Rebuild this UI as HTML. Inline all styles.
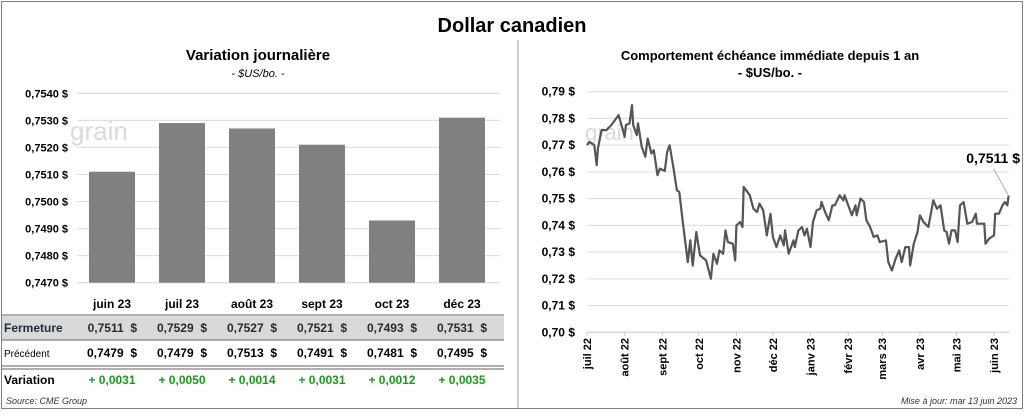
<!DOCTYPE html>
<html><head><meta charset="utf-8"><style>
html,body{margin:0;padding:0;background:#fff;}
body{width:1024px;height:410px;overflow:hidden;font-family:"Liberation Sans",sans-serif;}
svg text{font-family:"Liberation Sans",sans-serif;}
</style></head><body>
<svg id="s" width="1024" height="410" viewBox="0 0 1024 410">
<rect x="1.5" y="1.5" width="1021" height="407" fill="#fff" stroke="#808080"/>
<line x1="518" y1="40" x2="518" y2="408" stroke="#a0a0a0"/>
<text x="512" y="32" text-anchor="middle" font-size="20" font-weight="bold" fill="#000">Dollar canadien</text>
<text x="258" y="60" text-anchor="middle" font-size="15" font-weight="bold">Variation  journalière</text>
<text x="258" y="77" text-anchor="middle" font-size="11" font-style="italic">- $US/bo. -</text>
<text x="770" y="60" text-anchor="middle" font-size="13" font-weight="bold">Comportement échéance immédiate depuis 1 an</text>
<text x="770" y="77" text-anchor="middle" font-size="13" font-weight="bold">- $US/bo. -</text>
<g id="left"></g>
<g id="table"></g>
<g id="right"></g>
<text x="6" y="404" font-size="9" font-style="italic" fill="#333">Source: CME Group</text>
<text x="1017" y="404" text-anchor="end" font-size="9" font-style="italic" fill="#333">Mise à jour: mar 13 juin 2023</text>
</svg>
<script>
const categories=["juin 23","juil 23","août 23","sept 23","oct 23","déc 23"];
const closeVals=[0.7511,0.7529,0.7527,0.7521,0.7493,0.7531];
const prevVals=[0.7479,0.7479,0.7513,0.7491,0.7481,0.7495];
const varVals=[0.0031,0.0050,0.0014,0.0031,0.0012,0.0035];
const leftTicks=[0.7470,0.7480,0.7490,0.7500,0.7510,0.7520,0.7530,0.7540];
const lineDays=[0,2,6,8,9,12,16,20,26,28,31,32,35,37,38,41,42,45,48,50,53,55,58,60,64,66,68,71,74,76,79,83,85,87,90,93,98,102,104,107,109,112,114,116,120,122,123,126,128,129,131,134,137,140,142,145,148,151,153,156,159,162,163,166,170,171,174,177,179,181,184,186,189,192,193,196,199,202,204,208,211,212,215,218,221,222,225,228,230,233,236,239,241,246,248,251,254,257,259,262,265,266,269,272,274,277,281,285,288,291,294,296,298,300,303,305,307,310,313,317,320,321,327,328,331,335,336,339,342,344,346,347];
const lineVals=[.77,.77125,.77,.7625,.76875,.77563,.77563,.7775,.78125,.77813,.77313,.7775,.77813,.785,.7775,.77375,.77813,.76938,.76563,.7725,.76688,.76813,.75875,.76125,.76038,.7675,.77,.76188,.75313,.7525,.74063,.72625,.73438,.725,.7375,.72875,.72688,.72,.72938,.72563,.73063,.72938,.73813,.73375,.73313,.72688,.74,.74125,.73938,.75438,.75313,.75125,.74625,.745,.74813,.74563,.73625,.74438,.73563,.73188,.73625,.7325,.73813,.72938,.73438,.73188,.73813,.73938,.73625,.73875,.73188,.74125,.74563,.74625,.74875,.745,.74188,.7475,.7475,.75125,.74938,.75125,.7475,.74375,.7475,.74375,.75,.74875,.74188,.73938,.73563,.73625,.73375,.73438,.72625,.72313,.7275,.73063,.72625,.73188,.73188,.725,.73313,.7375,.74375,.74125,.73938,.74938,.74625,.7475,.73813,.7375,.73313,.73813,.73813,.73375,.7475,.74875,.74063,.74125,.74438,.74063,.74063,.73313,.735,.73625,.74438,.74438,.7475,.74875,.7475,.7511];
const rightTicks=[0.70,0.71,0.72,0.73,0.74,0.75,0.76,0.77,0.78,0.79];
const monthLabels=["juil 22","août 22","sept 22","oct 22","nov 22","déc 22","janv 23","févr 23","mars 23","avr 23","mai 23","juin 23"];
const monthDays=[0,31,62,92,123,153,184,215,243,274,304,335];
const lastLabel="0,7511 $";

const NS="http://www.w3.org/2000/svg";
function mk(p,tag,attrs,txt){const e=document.createElementNS(NS,tag);for(const k in attrs)e.setAttribute(k,attrs[k]);if(txt!==undefined)e.textContent=txt;p.appendChild(e);return e;}
const fmt4=v=>v.toFixed(4).replace('.',',');

const L=document.getElementById('left');
const ly=v=>282.7-(v-0.7470)/(0.0070)*(282.7-93.3);
const lx=i=>77+i*70+35;
leftTicks.forEach(t=>{
  const g=mk(L,'line',{x1:77,x2:500,y1:ly(t),y2:ly(t),stroke:'#d9d9d9'});
  
  
  const tx=mk(L,'text',{x:68,y:ly(t)+4,'text-anchor':'end','font-size':11,'font-weight':'bold'},fmt4(t)+' $');
  
  
});
const wm1=mk(L,'text',{x:70,y:140,'font-size':26,fill:'#dadada'},'grain');


closeVals.forEach((v,i)=>{
  const r=mk(L,'rect',{x:lx(i)-23,y:ly(v),width:46,height:ly(0.7470)-ly(v),fill:'#808080'});
  
  
});

const T=document.getElementById('table');
mk(T,'rect',{x:2,y:316,width:502,height:24,fill:'#d9d9d9'});
[[2,315],[2,340],[2,366],[2,369]].forEach(([x,y])=>mk(T,'line',{x1:x,x2:504,y1:y,y2:y,stroke:'#808080','stroke-width':1.2}));
const t1=mk(T,'text',{x:4,y:332,'font-size':12,'font-weight':'bold',fill:'#1f2d3d'},'Fermeture');


const t2=mk(T,'text',{x:4,y:357,'font-size':10,fill:'#000'},'Précédent');


const t3=mk(T,'text',{x:4,y:384,'font-size':12,'font-weight':'bold'},'Variation');


categories.forEach((c,i)=>{
  const cx=lx(i);
  const h=mk(T,'text',{x:cx,y:308,'text-anchor':'middle','font-size':12,'font-weight':'bold'},c);
  
  
  const a=mk(T,'text',{x:cx+25,y:332,'text-anchor':'end','font-size':12,'font-weight':'bold',fill:'#2a2a2a'},fmt4(closeVals[i])+'  $');
  
  
  a.style.whiteSpace='pre';
  const b=mk(T,'text',{x:cx+25,y:357,'text-anchor':'end','font-size':12,'font-weight':'bold'},fmt4(prevVals[i])+'  $');
  
  
  b.style.whiteSpace='pre';
  const d=varVals[i];
  const v=mk(T,'text',{x:cx,y:384,'text-anchor':'middle','font-size':12,'font-weight':'bold',fill:'#1a9a1a'},(d>=0?'+ ':'- ')+fmt4(Math.abs(d)));
  
  
});

const R=document.getElementById('right');
const ry=v=>332.3-(v-0.70)/0.09*(332.3-91.7);
const rx=d=>587+d*(994-587)/335;
rightTicks.forEach(t=>{
  const g=mk(R,'line',{x1:587,x2:1009,y1:ry(t),y2:ry(t),stroke:t===0.70?'#c8c8c8':'#dcdcdc'});
  
  
  const tx=mk(R,'text',{x:575,y:ry(t)+4,'text-anchor':'end','font-size':12,'font-weight':'bold'},t.toFixed(2).replace('.',',')+' $');
  
  
});
monthDays.forEach((d,i)=>{
  const x=rx(d);
  mk(R,'line',{x1:x,x2:x,y1:332,y2:336,stroke:'#c8c8c8'});
  const tx=mk(R,'text',{x:0,y:0,'text-anchor':'end','font-size':11,'font-weight':'bold',transform:`translate(${x+4},338) rotate(-90)`},monthLabels[i]);
  
  
});
const rw1=mk(R,'text',{x:585,y:140,'font-size':22,fill:'#dadada'},'grain');


const pts=lineDays.map((d,i)=>rx(d).toFixed(1)+','+ry(lineVals[i]).toFixed(1)).join(' ');
const pl=mk(R,'polyline',{points:pts,fill:'none',stroke:'#555','stroke-width':2.2,'stroke-linejoin':'round'});


const lx2=rx(lineDays[lineDays.length-1]),ly2=ry(lineVals[lineVals.length-1]);
mk(R,'line',{x1:lx2,y1:ly2,x2:lx2-15,y2:ly2-27,stroke:'#999','stroke-width':0.8});
const lb=mk(R,'text',{x:1020,y:163,'text-anchor':'end','font-size':14,'font-weight':'bold'},lastLabel);


</script>
</body></html>
